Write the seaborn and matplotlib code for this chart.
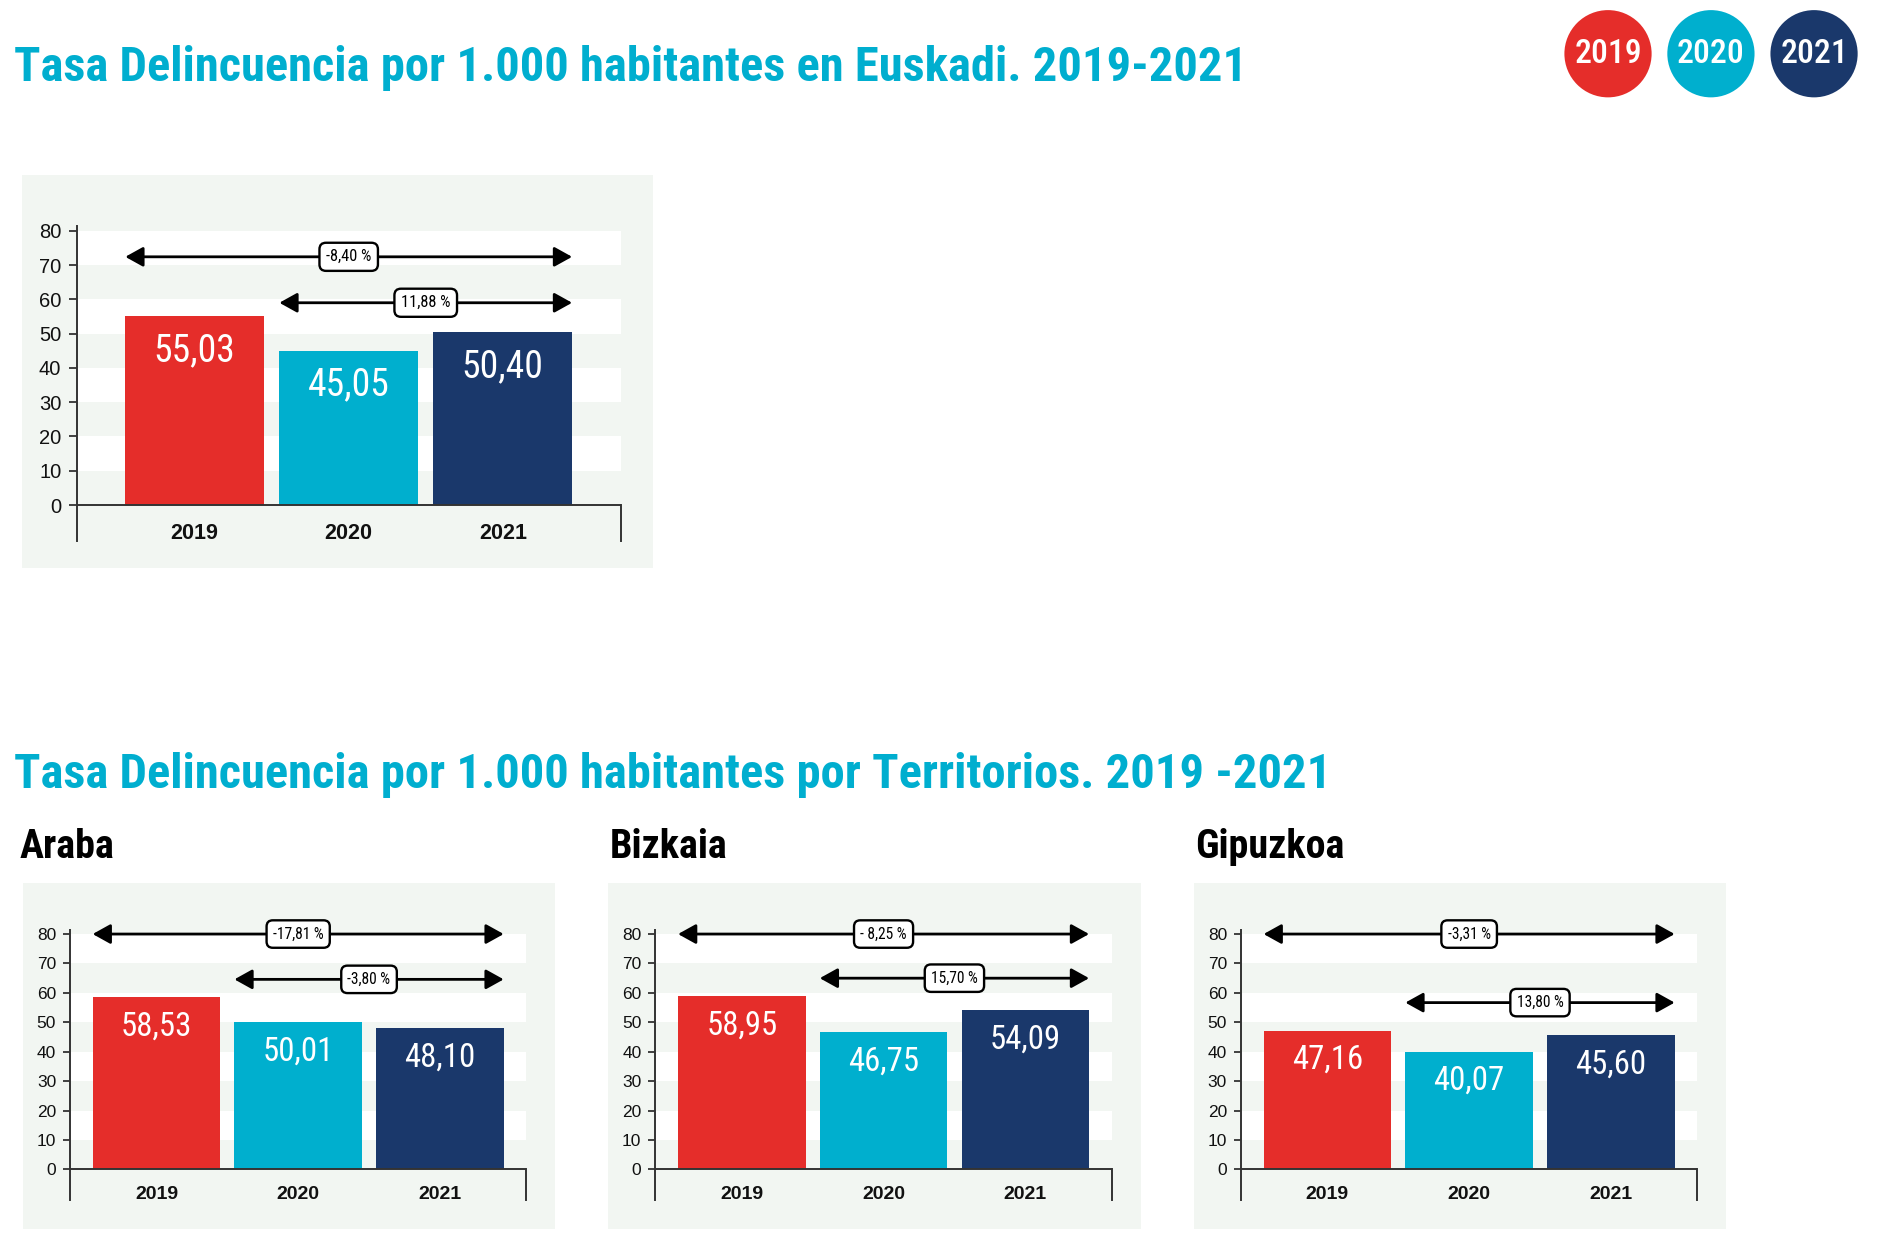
import matplotlib
matplotlib.use("Agg")
import matplotlib.pyplot as plt
from matplotlib.patches import Rectangle, Ellipse
from matplotlib import font_manager
import seaborn as sns

# ---------------- data ----------------
years = ["2019", "2020", "2021"]
year_colors = ["#E52D2A", "#00AFCE", "#1A386B"]

euskadi_rate = [55.03, 45.05, 50.40]
araba_rate = [58.53, 50.01, 48.10]
bizkaia_rate = [58.95, 46.75, 54.09]
gipuzkoa_rate = [47.16, 40.07, 45.60]

territories = ["Araba", "Bizkaia", "Gipuzkoa"]
change_2019_2021 = ["-8,40 %", "-17,81 %", "- 8,25 %", "-3,31 %"]
change_2020_2021 = ["11,88 %", "-3,80 %", "15,70 %", "13,80 %"]

title_main = "Tasa Delincuencia por 1.000 habitantes en Euskadi. 2019-2021"
title_terr = "Tasa Delincuencia por 1.000 habitantes por Territorios. 2019 -2021"
y_ticks = [0, 10, 20, 30, 40, 50, 60, 70, 80]

# ---------------- style ----------------
sns.set_theme(style="white")

names = {f.name for f in font_manager.fontManager.ttflist}
cond = None
for n in ["Roboto Condensed", "Liberation Sans Narrow", "Open Sans Condensed"]:
    if n in names:
        cond = n
        break
if cond is not None:
    NARROW = [cond, "Liberation Sans", "DejaVu Sans"]
    K = 1.18
else:
    NARROW = ["Liberation Sans", "DejaVu Sans"]
    K = 1.0
REGF = ["Liberation Sans", "DejaVu Sans"]
plt.rcParams["font.family"] = NARROW

TITLE_C = "#00AECF"
PANEL_C = "#F2F6F2"
SPINE_C = "#333333"
YLIM = (-10.4, 81.5)

fig = plt.figure(figsize=(18.92, 12.41), dpi=100)
fig.patch.set_facecolor("white")


def fmt(v):
    return f"{v:.2f}".replace(".", ",")


def draw_panel(ax, values, lab_total, lab_last, y_total, y_last, xlim,
               tick_fs, xlab_fs, val_fs, box_fs, xpad, tick_len):
    ax.set_facecolor("none")
    for lo, hi in [(10, 20), (30, 40), (50, 60), (70, 80)]:
        ax.axhspan(lo, hi, color="white", lw=0, zorder=1)
    sns.barplot(x=years, y=values, hue=years, palette=year_colors, width=0.9,
                saturation=1, legend=False, ax=ax, zorder=3, linewidth=0)
    ax.set_ylim(*YLIM)
    ax.set_xlim(*xlim)
    ax.set_yticks(y_ticks)
    ax.set_yticklabels([str(t) for t in y_ticks], fontsize=tick_fs, color="#111111",
                       fontfamily=REGF)
    ax.tick_params(axis="y", direction="out", length=tick_len, width=1.3,
                   color=SPINE_C, pad=5, left=True)
    ax.tick_params(axis="x", length=0, pad=xpad)
    for lbl in ax.get_xticklabels():
        lbl.set_fontfamily(REGF)
        lbl.set_fontweight("bold")
        lbl.set_fontsize(xlab_fs)
        lbl.set_color("#111111")
    ax.set_xlabel("")
    ax.set_ylabel("")
    ax.spines["top"].set_visible(False)
    ax.spines["bottom"].set_visible(False)
    for s in ["left", "right"]:
        ax.spines[s].set_visible(True)
        ax.spines[s].set_color(SPINE_C)
        ax.spines[s].set_linewidth(1.4)
    ax.spines["right"].set_bounds(YLIM[0], 0)
    ax.axhline(0, color=SPINE_C, lw=1.4, zorder=4)

    bars = [p for c in ax.containers for p in c]
    for b in bars:
        cx = b.get_x() + b.get_width() / 2
        h = b.get_height()
        ax.text(cx, h - 10, fmt(h), ha="center", va="center", color="white",
                fontsize=val_fs, zorder=5)

    x_first_left = bars[0].get_x()
    x_mid_left = bars[1].get_x()
    x_last_right = bars[2].get_x() + bars[2].get_width()
    for xl, y, lab in [(x_first_left, y_total, lab_total),
                       (x_mid_left, y_last, lab_last)]:
        ax.annotate("", xy=(x_last_right, y), xytext=(xl, y),
                    arrowprops=dict(arrowstyle="<|-|>,head_length=0.9,head_width=0.5",
                                    lw=2, color="black", shrinkA=0, shrinkB=0),
                    zorder=5, annotation_clip=False)
        ax.text((xl + x_last_right) / 2, y, lab, ha="center", va="center",
                fontsize=box_fs, color="black", zorder=6,
                bbox=dict(boxstyle="round,pad=0.4,rounding_size=0.4", fc="white",
                          ec="black", lw=1.7))


# ---------------- panel backgrounds ----------------
for rect in [(0.0115, 0.5425, 0.3337, 0.3163),
             (0.0122, 0.0097, 0.2814, 0.2787),
             (0.3216, 0.0097, 0.2814, 0.2787),
             (0.6311, 0.0097, 0.2814, 0.2787)]:
    fig.add_artist(Rectangle(rect[:2], rect[2], rect[3], transform=fig.transFigure,
                             facecolor=PANEL_C, edgecolor="none", zorder=-1))

# ---------------- titles ----------------
fig.text(0.0076, 0.9347, title_main, fontsize=29.7 * K, fontweight="bold",
         color=TITLE_C, va="baseline", ha="left")
fig.text(0.0076, 0.3654, title_terr, fontsize=29.7 * K, fontweight="bold",
         color=TITLE_C, va="baseline", ha="left")
for name, x in zip(territories, [0.0102, 0.3222, 0.6317]):
    fig.text(x, 0.3088, name, fontsize=24.5 * K, fontweight="bold", color="black",
             va="baseline", ha="left")

# ---------------- legend circles ----------------
for yr, col, cx in zip(years, year_colors, [0.8499, 0.9043, 0.9588]):
    fig.add_artist(Ellipse((cx, 0.9567), 0.0461, 0.0703, transform=fig.transFigure,
                           facecolor=col, edgecolor="none"))
    fig.text(cx, 0.9567, yr, fontsize=20.5 * K, color="white", ha="center",
             va="center", fontweight="medium")

# ---------------- charts ----------------
ax_e = fig.add_axes([0.0405, 0.5643, 0.2876, 0.2539])
draw_panel(ax_e, euskadi_rate, change_2019_2021[0], change_2020_2021[0], 72.4, 59.0,
           (-0.766, 2.766), 14.5, 15.5, 23 * K, 10 * K, -13, 6)

terr_rates = [araba_rate, bizkaia_rate, gipuzkoa_rate]
terr_left = [0.0370, 0.3464, 0.6559]
top_arrow_y = [80, 80, 80]
second_arrow_y = [64.6, 65.0, 56.7]
for i, (rates, left) in enumerate(zip(terr_rates, terr_left)):
    ax = fig.add_axes([left, 0.0330, 0.2412, 0.2179])
    draw_panel(ax, rates, change_2019_2021[i + 1], change_2020_2021[i + 1],
               top_arrow_y[i], second_arrow_y[i], (-0.61, 2.61), 12.5, 14, 20 * K,
               9.5 * K, -10, 5)

fig.savefig("out.png", dpi=100, facecolor="white")
